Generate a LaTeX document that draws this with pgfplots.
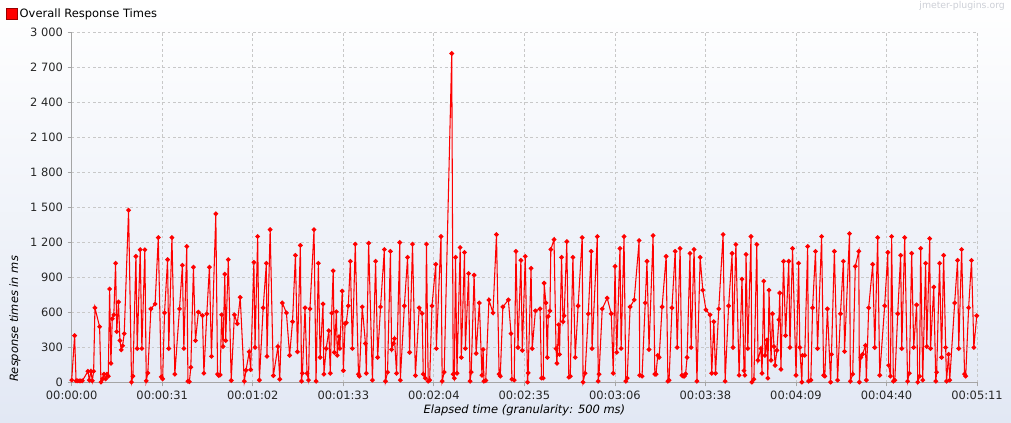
\documentclass[border=0pt]{standalone}
\usepackage{pgfplots}
\pgfplotsset{compat=1.18}
\usepackage{fontspec}
\setmainfont{DejaVu Sans}
\definecolor{gridc}{RGB}{200,200,200}
\definecolor{axc}{RGB}{165,165,165}
\definecolor{bgbot}{RGB}{226,232,244}
\definecolor{wmark}{RGB}{205,208,215}
\begin{document}
\begin{tikzpicture}
\shade[top color=white, bottom color=bgbot] (0pt,0pt) rectangle (758.25pt,317.25pt);
\begin{axis}[
  at={(53.78pt,30.38pt)}, anchor=south west,
  scale only axis, width=679pt, height=262.5pt,
  xmin=0, xmax=311.6, ymin=0, ymax=3000,
  xtick={0,31.16,62.32,93.48,124.64,155.8,186.96,218.12,249.28,280.44,311.6},
  xticklabels={00:00:00,00:00:31,00:01:02,00:01:33,00:02:04,00:02:35,00:03:06,00:03:38,00:04:09,00:04:40,00:05:11},
  ytick={0,300,600,900,1200,1500,1800,2100,2400,2700,3000},
  yticklabels={0,300,600,900,1 200,1 500,1 800,2 100,2 400,2 700,3 000},
  grid=major,
  major grid style={gridc, dash pattern=on 2pt off 2pt, line width=0.55pt},
  axis x line*=bottom, axis y line*=left,
  axis line style={axc, line width=0.8pt, -},
  tick align=outside, major tick length=3pt, tick style={axc, line width=0.6pt},
  ticklabel style={font=\fontsize{8.6}{10}\selectfont, text=black!85},
  xlabel={Elapsed time (granularity: 500 ms)},
  xlabel style={font=\itshape\fontsize{8.6}{10}\selectfont, at={(axis description cs:0.5,-0.0786)}, anchor=center},
  ylabel={Response times in ms},
  ylabel style={font=\itshape\fontsize{8.6}{10}\selectfont, at={(axis description cs:-0.0626,0.1814)}, anchor=center},
  legend style={at={(axis description cs:-0.0726,1.0757)}, anchor=north west, draw=none, fill=none,
    font=\fontsize{8.6}{10}\selectfont, inner sep=0pt, outer sep=0pt},
  legend image code/.code={\fill[red, draw=red!60!black, line width=0.3pt] (0pt,-4pt) rectangle (8pt,4pt);},
  clip=false,
]
\addplot[red, line width=0.8pt, mark=*, mark size=1.35pt, mark options={fill=red, draw=red}] coordinates {
(0.0,20) (1.0,402) (1.5,14) (2.05,14) (2.6,14) (3.1,14) (3.65,14) (5.6,96) (6.06,20) (6.63,96)
(7.09,14) (7.55,96) (8.0,640) (9.6,478) (10.07,3) (10.64,31) (11.1,71) (11.67,31) (12.13,71) (12.59,54)
(13.05,801) (13.5,164) (13.96,546) (14.5,580) (15.1,1022) (15.5,436) (16.1,690) (16.6,359) (17.05,280) (17.5,314)
(18.08,419) (19.57,1477) (20.6,3) (21.06,54) (22.1,1081) (22.55,291) (23.58,1138) (24.15,291) (25.18,1138) (25.65,14)
(26.2,82) (27.25,631) (28.7,673) (29.8,1242) (30.8,48) (31.3,31)
(31.95,597) (33.0,1053) (33.4,291) (34.5,1242) (35.5,71) (37.1,631) (38.1,1005) (38.6,291) (39.6,1166) (40.0,11)
(40.5,6) (41.0,130) (41.9,988) (42.6,359) (43.6,603) (45.0,574) (45.5,79) (46.5,589) (47.4,988) (48.1,224)
(49.6,1446) (50.2,71) (50.6,59) (51.1,65) (51.6,580) (52.1,308) (52.7,928) (53.0,359) (53.9,1053) (54.9,17)
(56.0,580) (57.0,504) (58.0,730) (59.4,11) (60.0,105) (61.1,263) (61.6,110) (62.7,1030) (63.1,300) (64.0,1251)
(64.6,20) (65.9,640) (67.0,1022) (67.2,224) (68.3,1310) (69.4,59) (71.0,308) (71.6,28) (72.5,682) (73.9,597)
(75.0,232) (76.0,521) (77.0,1090) (77.7,263) (78.7,1175) (79.1,11) (79.4,79) (80.3,640) (81.0,79) (81.5,20)
(82.0,631) (83.4,1310) (84.1,11) (84.9,1022) (85.5,215) (86.5,673) (86.8,71) (87.6,291) (88.5,444) (89.0,79)
(89.5,594) (90.0,957) (90.4,258) (91.1,606) (91.4,232) (92.0,393) (92.3,291) (93.1,784) (93.5,102) (94.1,504)
(94.5,512) (95.2,657) (95.9,1039) (96.6,291) (97.6,1186) (98.7,71) (99.0,54) (100.0,648) (101.1,334) (101.4,79)
(102.2,1194) (103.5,20) (104.6,1039) (105.3,215) (106.3,648) (107.6,1140) (108.0,11) (108.7,88) (109.7,1124) (110.1,283)
(110.7,334) (111.1,376) (111.8,79) (112.9,1200) (113.1,20) (114.5,657) (115.6,1073) (116.3,258) (117.3,1186) (118.3,59)
(119.6,640) (120.6,591) (121.0,71) (121.7,37) (122.1,1186) (122.7,11) (123.2,20) (124.0,657) (125.3,1013) (125.5,291)
(127.1,1251) (127.5,11) (128.2,88) (130.8,2820) (131.3,71) (131.7,37) (132.1,1073) (132.6,79) (133.7,1157) (134.1,215)
(135.2,1115) (135.5,291) (136.6,934) (137.1,11) (137.5,88) (138.5,920) (139.2,249) (140.3,682) (141.2,62) (141.6,283)
(141.9,11) (142.5,17) (143.6,708) (145.0,597) (146.2,1268) (147.1,71) (147.5,54) (148.4,648) (150.3,708) (151.2,419)
(151.5,28) (152.3,20) (152.9,1124) (153.6,300) (154.6,1047) (155.1,275) (156.1,1081) (156.9,3) (157.1,82) (158.1,979)
(158.5,291) (159.6,614) (161.2,631) (161.7,37) (162.3,37) (162.6,852) (163.2,682) (163.7,215) (164.0,566) (164.6,614)
(164.9,1140) (166.0,1225) (166.7,291) (167.0,164) (167.6,495) (167.9,241) (168.6,1073) (169.1,521) (169.5,572) (170.4,1208)
(171.1,45) (171.6,54) (172.5,1073) (173.3,215) (174.3,657) (175.7,1242) (176.0,3) (176.7,79) (177.8,589) (178.8,1124)
(179.1,291) (180.9,1251) (181.2,11) (181.5,71) (182.6,631) (184.3,724) (185.7,589) (186.4,79) (187.0,996) (187.6,258)
(188.7,1149) (189.1,291) (190.1,1251) (190.7,11) (191.2,37) (192.2,648) (193.6,708) (195.3,1217) (195.5,62) (196.3,54)
(197.4,682) (198.0,1039) (198.7,283) (200.1,1259) (200.7,71) (201.1,71) (201.7,232) (202.2,215) (203.2,648) (204.6,1081)
(205.2,11) (205.6,20) (206.6,640) (207.7,1124) (208.4,300) (209.4,1149) (210.0,62) (210.4,54) (210.9,54) (211.3,74)
(211.8,215) (212.8,1107) (213.2,300) (214.2,1140) (215.2,11) (216.3,1073) (217.2,792) (218.3,623) (219.7,580) (220.3,79)
(221.0,521) (221.6,79) (222.7,631) (224.2,1268) (224.9,11) (226.1,657) (227.3,1107) (227.6,300) (228.6,1183) (229.7,62)
(230.7,886) (231.4,102) (231.7,62) (232.1,1098) (232.7,291) (233.8,1251) (234.1,3) (234.8,28) (235.8,1183) (236.2,190)
(237.2,291) (237.6,79) (238.2,869) (238.6,232) (239.3,365) (239.6,37) (240.0,792) (240.7,190) (241.2,589) (241.7,308)
(242.1,147) (242.7,275) (243.4,538) (243.7,767) (244.1,113) (245.0,1039) (245.7,402) (246.8,1039) (247.2,300) (248.1,1149)
(249.3,62) (250.2,1022) (250.6,300) (251.3,3) (251.5,232) (252.3,232) (253.3,1166) (253.6,11) (254.4,20) (255.0,640)
(256.0,1124) (256.7,291) (258.1,1251) (258.8,62) (259.2,54) (260.1,631) (261.2,3) (261.5,241) (262.5,1124) (263.6,20)
(264.6,589) (265.6,1039) (266.0,266) (267.7,1276) (268.0,11) (268.8,71) (269.7,996) (270.9,1124) (271.1,3) (271.6,215)
(272.2,241) (273.2,317) (273.5,20) (274.3,640) (275.7,1013) (276.4,300) (277.4,1242) (278.1,62) (279.8,657) (280.9,1115)
(281.2,147) (281.8,54) (282.2,1251) (282.8,11) (283.3,20) (284.3,589) (285.3,1090) (285.7,291) (286.7,1242) (287.7,11)
(288.3,79) (289.1,1107) (289.8,300) (290.8,665) (291.2,3) (291.8,54) (292.2,1149) (292.9,20) (293.9,1022) (294.3,308)
(295.3,1234) (295.6,291) (296.7,818) (297.4,11) (297.7,88) (298.7,1022) (299.4,215) (300.1,1090) (300.8,300) (301.1,11)
(301.8,241) (302.2,20) (303.9,682) (304.9,1047) (305.3,291) (306.3,1140) (307.3,71) (307.7,54) (308.7,640) (309.7,1047)
(310.5,300) (311.5,572)
};
\addlegendentry{Overall Response Times}
\node[anchor=east, text=wmark, font=\fontsize{7}{8}\selectfont, inner sep=0pt] at (axis description cs:1.031,1.0757) {jmeter-plugins.org};
\end{axis}
\end{tikzpicture}
\end{document}
